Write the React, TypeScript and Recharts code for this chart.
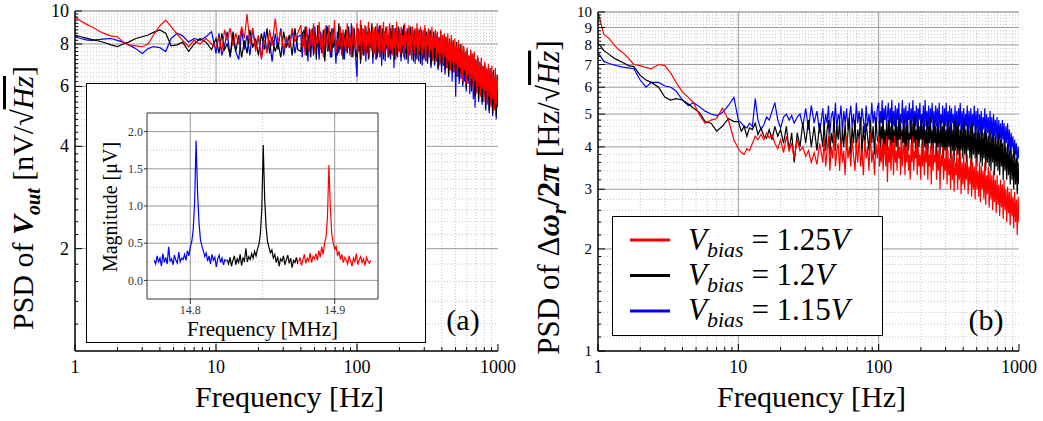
import { LineChart, Line, XAxis, YAxis, CartesianGrid, ReferenceLine, Legend } from 'recharts';

const SERIF = '"Liberation Serif", "DejaVu Serif", "Times New Roman", Times, serif';

// PSD frequency grid [Hz], shared by all six traces (1-10, 10-38, 40-98, 100-1000)
const FREQ_HZ = [
  1, 1.1, 1.2, 1.3, 1.4, 1.5, 1.65, 1.8, 2, 2.2,
  2.4, 2.7, 3, 3.3, 3.6, 4, 4.4, 4.8, 5.3, 5.8,
  6.4, 7, 7.7, 8.5, 9.3,
  10, 10.5, 11, 11.5, 12, 12.6, 13.2, 13.8, 14.5, 15.2,
  15.9, 16.6, 17.4, 18.2, 19.1, 20, 21, 22, 23, 24,
  25, 26.3, 27.5, 28.8, 30.2, 31.6, 33.1, 34.7, 36.3, 38,
  40, 40.9, 41.9, 42.9, 43.9, 44.9, 45.9, 47, 48.1, 49.2,
  50.3, 51.5, 52.7, 53.9, 55.2, 56.4, 57.7, 59.1, 60.4, 61.8,
  63.3, 64.7, 66.2, 67.8, 69.3, 70.9, 72.6, 74.3, 76, 77.8,
  79.6, 81.4, 83.3, 85.3, 87.2, 89.3, 91.3, 93.5, 95.6, 97.8,
  100, 101.5, 102.9, 104.4, 105.9, 107.5, 109, 110.6, 112.2, 113.8,
  115.5, 117.2, 118.9, 120.6, 122.3, 124.1, 125.9, 127.7, 129.6, 131.5,
  133.4, 135.3, 137.2, 139.2, 141.3, 143.3, 145.4, 147.5, 149.6, 151.8,
  154, 156.2, 158.5, 160.8, 163.1, 165.5, 167.9, 170.3, 172.8, 175.3,
  177.8, 180.4, 183, 185.7, 188.4, 191.1, 193.9, 196.7, 199.5, 202.4,
  205.4, 208.3, 211.3, 214.4, 217.5, 220.7, 223.9, 227.1, 230.4, 233.8,
  237.1, 240.6, 244.1, 247.6, 251.2, 254.8, 258.5, 262.3, 266.1, 269.9,
  273.8, 277.8, 281.8, 285.9, 290.1, 294.3, 298.5, 302.9, 307.2, 311.7,
  316.2, 320.8, 325.5, 330.2, 335, 339.8, 344.8, 349.8, 354.8, 360,
  365.2, 370.5, 375.8, 381.3, 386.8, 392.4, 398.1, 403.9, 409.7, 415.7,
  421.7, 427.8, 434, 440.3, 446.7, 453.2, 459.7, 466.4, 473.2, 480,
  487, 494, 501.2, 508.5, 515.8, 523.3, 530.9, 538.6, 546.4, 554.3,
  562.3, 570.5, 578.8, 587.1, 595.7, 604.3, 613.1, 621.9, 631, 640.1,
  649.4, 658.8, 668.3, 678, 687.9, 697.8, 708, 718.2, 728.6, 739.2,
  749.9, 760.8, 771.8, 783, 794.3, 805.8, 817.5, 829.4, 841.4, 853.6,
  866, 878.5, 891.3, 904.2, 917.3, 930.6, 944.1, 957.7, 971.6, 985.7,
  1000,
];

// (a) PSD of Vout [nV/sqrt(Hz)]
const A_RED = [
  9.6, 9.35, 9.15, 9.0, 8.85, 8.7, 8.55, 8.45, 8.4, 8.1,
  7.95, 7.9, 7.85, 8.0, 8.5, 9.05, 9.4, 9.0, 8.55, 8.2,
  7.85, 8.2, 8.0, 8.3, 8.0,
  7.8, 8.4, 7.6, 8.8, 8.2, 8.9, 7.9, 8.6, 8.0, 9.0,
  8.3, 9.8, 8.0, 8.9, 7.6, 8.5, 7.2, 8.2, 7.5, 8.8,
  7.9, 9.5, 8.1, 8.7, 7.7, 8.4, 7.8, 8.9, 8.1, 8.6,
  9.1, 7.8, 8.6, 7.4, 9.0, 8.1, 7.6, 8.8, 7.9, 9.2,
  7.5, 8.4, 8.0, 9.3, 7.7, 8.6, 7.3, 8.9, 8.2, 7.8,
  9.1, 7.6, 8.7, 8.0, 9.4, 7.5, 8.3, 7.9, 9.0, 7.4,
  8.8, 8.1, 7.6, 9.2, 7.8, 8.5, 7.3, 9.0, 8.2, 7.7,
  9.2, 7.5, 8.8, 7.9, 9.4, 7.2, 8.3, 8.9, 7.6, 9.1,
  7.4, 8.6, 7.9, 9.3, 7.3, 8.7, 8.1, 7.6, 9.0, 7.5,
  8.9, 7.2, 8.4, 9.2, 7.7, 8.6, 7.4, 9.1, 8.0, 7.6,
  9.3, 7.5, 8.7, 7.9, 9.0, 7.3, 8.5, 9.2, 7.7, 8.3,
  7.4, 9.1, 7.8, 8.8, 7.2, 9.3, 8.0, 7.6, 8.9, 7.5,
  9.0, 7.9, 8.5, 7.3, 9.2, 7.7, 8.7, 8.1, 7.4, 9.1,
  7.6, 8.6, 7.2, 9.0, 8.2, 7.5, 8.9, 7.8, 9.2, 7.3,
  8.7, 7.6, 9.0, 8.0, 7.4, 8.8, 7.7, 9.1, 7.2, 8.5,
  7.9, 8.9, 7.3, 8.6, 7.6, 9.0, 7.1, 8.4, 7.8, 8.8,
  7.2, 8.7, 7.5, 8.3, 6.9, 8.8, 7.4, 8.5, 7.0, 8.6,
  7.3, 8.4, 6.8, 8.6, 7.1, 8.2, 6.7, 8.5, 7.0, 8.1,
  6.6, 8.3, 7.0, 7.9, 6.4, 8.2, 6.8, 7.8, 6.5, 8.0,
  6.2, 7.9, 6.7, 7.6, 6.1, 7.8, 6.5, 7.4, 6.0, 7.7,
  6.3, 7.5, 5.8, 7.6, 6.2, 7.2, 5.7, 7.4, 6.0, 7.1,
  5.6, 7.3, 5.9, 6.9, 5.4, 7.1, 5.8, 6.8, 5.3, 7.0,
  5.6, 6.7, 5.2, 6.9, 5.5, 6.5, 5.1, 6.8, 5.3, 6.4,
  5.8,
];
const A_BLACK = [
  8.5, 8.4, 8.32, 8.25, 8.2, 8.15, 8.05, 7.95, 7.86, 8.0,
  8.1, 8.3, 8.4, 8.5, 8.65, 8.8, 8.6, 7.9, 7.95, 8.1,
  7.6, 8.0, 8.3, 8.1, 7.7,
  8.3, 7.5, 8.6, 7.7, 8.0, 7.4, 8.7, 7.6, 8.5, 7.3,
  8.2, 7.5, 8.8, 7.8, 8.3, 7.4, 8.6, 7.7, 8.9, 7.5,
  8.4, 7.6, 8.1, 7.3, 8.7, 7.8, 8.5, 7.4, 8.9, 7.7,
  7.6, 8.7, 7.9, 9.0, 7.4, 8.5, 8.1, 7.3, 8.9, 7.7,
  8.6, 7.2, 9.1, 7.8, 8.3, 7.5, 8.8, 7.1, 8.4, 9.0,
  7.6, 8.7, 7.3, 8.9, 7.9, 8.2, 7.4, 9.2, 7.7, 8.6,
  7.2, 8.4, 8.8, 7.5, 9.0, 7.8, 8.6, 7.3, 8.9, 7.6,
  7.3, 8.9, 7.7, 8.6, 7.0, 9.1, 7.9, 7.4, 8.8, 7.6,
  9.0, 7.5, 8.7, 7.2, 8.9, 7.8, 8.4, 9.2, 7.3, 8.6,
  7.6, 9.0, 7.9, 7.3, 8.8, 7.5, 9.1, 7.7, 8.5, 8.9,
  7.2, 8.7, 7.6, 9.0, 7.8, 8.4, 7.3, 7.9, 8.9, 7.5,
  9.1, 7.6, 8.6, 7.2, 8.9, 7.4, 8.2, 9.0, 7.7, 8.6,
  7.3, 8.8, 7.5, 9.1, 7.9, 8.3, 7.2, 8.7, 7.6, 8.9,
  7.4, 9.0, 7.8, 8.5, 7.1, 8.8, 7.6, 8.3, 7.2, 8.9,
  7.5, 8.6, 7.0, 8.8, 7.7, 8.4, 7.2, 8.9, 7.6, 8.7,
  7.1, 8.5, 7.5, 8.8, 6.9, 8.4, 7.4, 8.7, 7.0, 8.5,
  7.3, 8.6, 6.8, 8.3, 7.1, 8.7, 6.9, 8.2, 7.2, 8.5,
  6.7, 8.4, 7.0, 8.1, 6.5, 8.3, 6.9, 8.0, 6.6, 8.2,
  6.9, 7.9, 6.4, 8.1, 6.7, 7.8, 6.3, 8.0, 6.6, 7.7,
  6.1, 7.8, 6.5, 7.5, 5.9, 7.7, 6.3, 7.4, 6.0, 7.6,
  5.8, 7.3, 6.1, 7.5, 5.6, 7.2, 6.0, 7.3, 5.5, 7.0,
  5.8, 7.1, 5.4, 6.9, 5.7, 7.0, 5.2, 6.8, 5.5, 6.7,
  5.1, 6.8, 5.4, 6.5, 5.0, 6.7, 5.3, 6.4, 4.9, 6.5,
  5.3,
];
const A_BLUE = [
  8.4, 8.3, 8.22, 8.2, 8.22, 8.25, 8.28, 8.3, 8.2, 8.1,
  7.95, 7.75, 7.5, 7.75, 7.86, 7.8, 7.6, 8.3, 8.6, 8.45,
  8.1, 8.3, 8.2, 8.4, 8.7,
  7.5, 8.6, 7.4, 7.9, 8.7, 7.3, 8.4, 7.6, 7.2, 8.8,
  7.7, 8.5, 7.4, 8.9, 7.8, 8.4, 7.3, 8.7, 7.6, 8.2,
  7.1, 8.6, 7.7, 8.9, 7.4, 8.3, 7.8, 8.8, 7.5, 8.4,
  8.5, 7.3, 8.8, 7.6, 8.2, 7.1, 8.9, 7.8, 8.4, 7.4,
  9.0, 7.7, 8.3, 7.2, 8.7, 7.9, 8.1, 7.4, 9.1, 7.6,
  8.6, 7.3, 8.9, 7.8, 8.2, 7.0, 8.7, 7.5, 9.0, 7.9,
  8.4, 7.2, 8.8, 7.6, 8.3, 7.4, 9.2, 7.7, 8.5, 7.3,
  6.4, 8.9, 7.6, 8.5, 7.2, 9.0, 7.8, 8.3, 7.4, 8.8,
  7.1, 8.6, 7.7, 9.1, 7.3, 8.4, 7.9, 8.8, 7.0, 8.7,
  7.5, 8.9, 7.2, 8.5, 7.8, 9.0, 7.3, 8.6, 6.9, 8.8,
  7.6, 8.4, 7.1, 8.9, 7.7, 8.5, 7.4, 9.0, 7.2, 8.6,
  7.8, 8.7, 6.8, 8.9, 7.5, 8.3, 7.3, 8.8, 7.6, 8.5,
  7.1, 8.9, 7.7, 8.4, 7.2, 8.7, 7.5, 8.9, 7.0, 8.6,
  7.6, 8.3, 7.2, 8.8, 7.4, 8.6, 7.0, 8.7, 7.5, 8.4,
  7.1, 8.8, 7.6, 8.2, 6.9, 8.7, 7.3, 8.5, 7.1, 8.6,
  7.0, 8.4, 7.3, 8.7, 6.8, 8.3, 7.2, 8.6, 6.9, 8.2,
  7.1, 8.5, 6.7, 8.4, 7.0, 8.1, 6.6, 8.3, 6.9, 8.0,
  6.5, 8.2, 6.8, 7.9, 6.4, 8.1, 6.7, 7.8, 6.2, 8.0,
  6.6, 7.7, 5.6, 7.9, 6.4, 7.6, 6.1, 7.8, 6.3, 7.5,
  6.0, 7.7, 6.2, 7.3, 5.8, 7.5, 6.1, 7.2, 5.7, 7.4,
  6.0, 7.1, 5.5, 7.3, 5.2, 7.0, 5.8, 7.2, 5.4, 6.9,
  5.7, 7.0, 5.3, 6.8, 5.6, 6.9, 5.1, 6.6, 5.4, 6.7,
  5.0, 6.5, 5.3, 6.6, 4.9, 6.4, 5.2, 6.3, 4.8, 6.2,
  5.2,
];

// (b) PSD of delta omega_r / 2pi [Hz/sqrt(Hz)]
const B_RED = [
  10.0, 8.6, 8.35, 8.0, 7.75, 7.6, 7.3, 7.0, 6.95, 6.85,
  6.8, 7.0, 6.95, 6.6, 6.2, 5.8, 5.6, 5.4, 4.95, 4.7,
  4.8, 4.85, 5.2, 4.8, 4.2,
  3.95, 3.85, 3.8, 3.95, 3.9, 4.1, 4.3, 4.2, 4.35, 4.2,
  4.4, 4.25, 4.35, 4.1, 3.95, 4.2, 3.85, 4.3, 3.9, 4.1,
  3.7, 4.2, 3.9, 4.0, 3.75, 3.9, 3.6, 3.85, 3.55, 4.1,
  3.6, 4.2, 3.5, 3.9, 4.3, 3.4, 4.0, 3.7, 4.4, 3.5,
  3.9, 4.1, 3.4, 4.2, 3.6, 3.9, 3.3, 4.3, 3.7, 4.0,
  3.5, 4.2, 3.8, 3.4, 4.1, 3.6, 4.3, 3.5, 3.9, 3.3,
  4.2, 3.7, 4.0, 3.4, 4.4, 3.6, 3.9, 3.3, 4.1, 3.7,
  4.3, 3.5, 4.0, 3.6, 4.2, 3.4, 3.9, 4.1, 3.5, 4.3,
  3.15, 4.0, 3.6, 4.2, 3.4, 3.8, 4.1, 3.3, 4.3, 3.6,
  3.9, 3.4, 4.2, 3.7, 4.0, 3.3, 4.3, 3.5, 3.9, 4.1,
  3.3, 4.0, 3.6, 4.2, 3.4, 3.8, 3.2, 4.1, 3.6, 4.3,
  3.4, 3.9, 3.7, 4.2, 3.3, 4.0, 3.5, 3.8, 3.2, 4.1,
  3.5, 4.2, 3.3, 3.9, 3.6, 4.1, 3.2, 3.8, 3.5, 4.0,
  3.1, 4.1, 3.4, 3.8, 3.6, 4.0, 3.2, 3.9, 3.4, 4.1,
  3.0, 3.8, 3.5, 4.0, 3.2, 3.7, 3.4, 4.0, 3.1, 3.9,
  3.3, 3.7, 3.0, 4.0, 3.2, 3.8, 2.95, 3.6, 3.3, 3.9,
  3.0, 3.7, 3.2, 3.9, 2.9, 3.6, 3.1, 3.8, 3.0, 3.6,
  3.2, 3.8, 2.9, 3.5, 3.1, 3.7, 2.85, 3.6, 3.0, 3.5,
  2.8, 3.7, 3.0, 3.4, 2.85, 3.6, 2.75, 3.5, 3.0, 3.4,
  2.8, 3.6, 2.7, 3.3, 2.9, 3.5, 2.65, 3.4, 2.8, 3.3,
  2.6, 3.4, 2.75, 3.2, 2.55, 3.3, 2.7, 3.1, 2.5, 3.2,
  2.65, 3.1, 2.45, 3.2, 2.6, 3.0, 2.4, 3.05, 2.55, 2.95,
  2.35, 3.0, 2.5, 2.85, 2.3, 2.95, 2.4, 2.8, 2.2, 2.85,
  2.4,
];
const B_BLACK = [
  8.1, 7.7, 7.5, 7.3, 7.2, 7.1, 6.95, 6.9, 6.5, 6.3,
  6.2, 6.0, 5.6, 5.5, 5.55, 5.5, 5.35, 5.2, 5.05, 4.75,
  4.7, 4.45, 4.6, 4.85, 4.75,
  4.75, 4.45, 4.6, 4.3, 4.55, 4.5, 4.7, 4.35, 4.55, 4.3,
  4.25, 4.5, 4.2, 4.6, 4.3, 4.5, 4.1, 4.6, 3.9, 4.4,
  3.6, 4.4, 4.0, 4.7, 4.1, 4.8, 4.0, 4.6, 3.9, 4.7,
  4.0, 4.7, 3.9, 4.5, 4.8, 3.8, 4.4, 4.1, 4.9, 3.9,
  4.6, 4.2, 4.8, 3.8, 4.5, 4.0, 4.7, 3.9, 4.4, 4.9,
  3.8, 4.6, 4.1, 4.8, 3.9, 4.5, 4.2, 4.9, 3.8, 4.6,
  4.0, 4.7, 4.3, 3.9, 4.8, 4.1, 4.6, 3.8, 4.9, 4.2,
  4.1, 4.8, 3.9, 4.6, 4.2, 4.9, 3.8, 4.5, 4.0, 4.7,
  3.9, 4.8, 4.2, 4.6, 3.7, 4.9, 4.1, 4.5, 3.9, 4.8,
  4.0, 4.6, 3.8, 4.9, 4.2, 4.7, 3.9, 4.5, 4.1, 4.8,
  3.7, 4.6, 4.0, 4.9, 3.9, 4.4, 4.2, 4.8, 3.8, 4.7,
  4.1, 4.9, 3.9, 4.5, 3.7, 4.8, 4.0, 4.6, 4.2, 4.9,
  3.8, 4.7, 4.0, 4.5, 3.9, 4.8, 3.7, 4.6, 4.1, 4.9,
  3.9, 4.5, 3.8, 4.8, 4.1, 4.6, 3.7, 4.7, 4.0, 4.5,
  3.8, 4.8, 4.0, 4.6, 3.7, 4.7, 3.9, 4.5, 3.8, 4.8,
  4.0, 4.6, 3.7, 4.7, 3.9, 4.5, 3.6, 4.8, 3.9, 4.6,
  3.8, 4.7, 3.6, 4.5, 3.9, 4.6, 3.7, 4.8, 3.8, 4.5,
  3.6, 4.7, 3.9, 4.5, 3.7, 4.6, 3.5, 4.7, 3.8, 4.4,
  3.7, 4.6, 3.5, 4.5, 3.8, 4.4, 3.6, 4.6, 3.5, 4.4,
  3.7, 4.5, 3.4, 4.4, 3.6, 4.3, 3.5, 4.5, 3.4, 4.3,
  3.6, 4.4, 3.3, 4.3, 3.5, 4.2, 3.4, 4.4, 3.3, 4.2,
  3.5, 4.1, 3.2, 4.2, 3.4, 4.0, 3.2, 4.1, 3.3, 3.9,
  3.1, 4.0, 3.2, 3.8, 3.0, 3.9, 3.1, 3.7, 2.9, 3.6,
  3.1,
];
const B_BLUE = [
  7.6, 7.15, 7.05, 6.98, 6.92, 6.88, 6.84, 6.8, 6.3, 6.0,
  6.2, 6.2, 6.05, 6.0, 5.85, 5.5, 5.3, 5.4, 5.25, 5.1,
  5.0, 4.95, 5.05, 5.3, 5.6,
  4.8, 4.7, 4.6, 4.55, 4.7, 4.6, 5.55, 4.8, 4.5, 4.65,
  4.9, 4.8, 5.1, 5.4, 4.8, 4.55, 4.9, 5.0, 4.8, 4.95,
  4.7, 4.9, 5.0, 4.6, 5.2, 4.5, 5.3, 4.7, 5.1, 4.4,
  5.2, 4.5, 5.0, 4.7, 5.3, 4.4, 4.9, 5.1, 4.6, 5.4,
  4.5, 5.0, 4.8, 5.3, 4.4, 5.1, 4.7, 5.2, 4.5, 4.9,
  5.3, 4.6, 5.0, 4.4, 5.4, 4.7, 5.1, 4.5, 5.2, 4.8,
  4.4, 5.3, 4.6, 5.0, 4.5, 5.4, 4.7, 5.1, 4.4, 5.2,
  5.4, 4.5, 5.1, 4.7, 5.5, 4.4, 5.2, 4.8, 5.3, 4.6,
  5.0, 5.4, 4.4, 5.2, 4.7, 5.5, 4.5, 5.1, 4.6, 5.3,
  4.4, 5.2, 4.8, 5.4, 4.5, 5.0, 4.7, 5.5, 4.4, 5.2,
  4.6, 5.3, 4.5, 5.1, 4.8, 5.4, 4.3, 5.2, 4.7, 5.5,
  4.5, 5.1, 4.6, 5.3, 4.4, 5.2, 4.8, 5.4, 4.5, 5.0,
  4.7, 5.3, 4.4, 5.5, 4.6, 5.1, 4.5, 5.3, 4.3, 5.2,
  4.7, 5.4, 4.5, 5.1, 4.4, 5.3, 4.6, 5.2, 4.4, 5.4,
  4.5, 5.0, 4.7, 5.3, 4.3, 5.2, 4.6, 5.4, 4.4, 5.1,
  4.6, 5.3, 4.4, 5.2, 4.7, 5.0, 4.3, 5.3, 4.5, 5.1,
  4.4, 5.2, 4.6, 5.4, 4.3, 5.1, 4.5, 5.2, 4.4, 5.0,
  4.6, 5.3, 4.3, 5.1, 4.5, 5.2, 4.4, 5.0, 4.6, 5.3,
  4.3, 5.1, 4.5, 5.2, 4.2, 5.0, 4.4, 5.1, 4.3, 4.9,
  4.5, 5.2, 4.2, 5.0, 4.4, 4.9, 4.2, 5.1, 4.3, 4.9,
  4.1, 5.0, 4.3, 4.8, 4.2, 4.9, 4.0, 4.8, 4.2, 4.7,
  4.0, 4.8, 4.2, 4.7, 3.9, 4.6, 4.1, 4.7, 3.9, 4.5,
  3.8, 4.4, 4.0, 4.3, 3.7, 4.2, 3.8, 4.1, 3.5, 4.0,
  3.7,
];

// inset: resonance sweeps, magnitude [uV], sampled every 1 kHz
const SWEEP_STEP_MHZ = 0.001;
const IN_BLUE_START = 14.775;
const IN_BLUE = [
  0.27, 0.22, 0.33, 0.25, 0.30, 0.19, 0.36, 0.24, 0.31, 0.22,
  0.45, 0.26, 0.29, 0.21, 0.34, 0.27, 0.23, 0.38, 0.25, 0.30,
  0.28, 0.35, 0.27, 0.40, 0.33, 0.45, 0.52, 0.68, 1.05, 1.88,
  1.20, 0.78, 0.55, 0.46, 0.40, 0.32, 0.37, 0.26, 0.33, 0.22,
  0.35, 0.27, 0.31, 0.18, 0.29, 0.34, 0.24, 0.30, 0.21, 0.28, 0.26,
];
const IN_BLACK_START = 14.8255;
const IN_BLACK = [
  0.28, 0.22, 0.31, 0.19, 0.27, 0.33, 0.21, 0.29, 0.24, 0.35,
  0.20, 0.30, 0.26, 0.43, 0.25, 0.32, 0.28, 0.36, 0.30, 0.39,
  0.33, 0.42, 0.48, 0.62, 0.95, 1.82, 1.10, 0.72, 0.52, 0.44,
  0.37, 0.41, 0.30, 0.35, 0.24, 0.32, 0.19, 0.29, 0.26, 0.33,
  0.21, 0.28, 0.34, 0.23, 0.30, 0.17, 0.27, 0.24, 0.31, 0.22,
];
const IN_RED_START = 14.875;
const IN_RED = [
  0.25, 0.31, 0.20, 0.28, 0.35, 0.23, 0.30, 0.26, 0.37, 0.24,
  0.32, 0.29, 0.36, 0.27, 0.40, 0.31, 0.45, 0.35, 0.50, 0.58,
  0.85, 1.55, 0.98, 0.62, 0.50, 0.42, 0.46, 0.33, 0.39, 0.28,
  0.35, 0.24, 0.31, 0.27, 0.22, 0.33, 0.26, 0.19, 0.30, 0.25,
  0.36, 0.21, 0.28, 0.32, 0.24, 0.29, 0.20, 0.31, 0.26, 0.23, 0.27,
];

const X_TICKS = [1, 2, 3, 4, 5, 6, 7, 8, 9, 10, 20, 30, 40, 50, 60, 70, 80, 90, 100, 200, 300, 400, 500, 600, 700, 800, 900, 1000];
const X_LABELED = [1, 10, 100, 1000];
const A_Y_LABELED = [2, 4, 6, 8, 10];
const B_Y_LABELED = [1, 2, 3, 4, 5, 6, 7, 8, 9, 10];
const INSET_X_TICKS = [14.8, 14.9];
const INSET_Y_TICKS = [0, 0.5, 1, 1.5, 2];

const LEGEND_ITEMS = [
  { color: '#ff0000', volts: '1.25' },
  { color: '#000000', volts: '1.2' },
  { color: '#0000ff', volts: '1.15' },
];

// grid helpers (axis decoration only)
const X_MINOR = X_TICKS.filter((v) => !X_LABELED.includes(v));
const steps = (from: number, to: number, step: number) => {
  const out: number[] = [];
  for (let v = from; v <= to + 1e-9; v += step) out.push(Math.round(v * 10) / 10);
  return out;
};
const A_Y_MINOR = steps(1.2, 9.8, 0.2).filter((v) => !A_Y_LABELED.includes(v));
const B_Y_MINOR = [...steps(1.1, 1.9, 0.1), ...steps(2.2, 9.8, 0.2)].filter((v) => !B_Y_LABELED.includes(v));
const A_Y_TICKS = [...A_Y_MINOR, ...A_Y_LABELED].sort((p, q) => p - q);
const B_Y_TICKS = [...B_Y_MINOR, ...B_Y_LABELED].sort((p, q) => p - q);

const psdA = FREQ_HZ.map((f, i) => ({ f, red: A_RED[i], black: A_BLACK[i], blue: A_BLUE[i] }));
const psdB = FREQ_HZ.map((f, i) => ({ f, red: B_RED[i], black: B_BLACK[i], blue: B_BLUE[i] }));
const sweep = (start: number, vals: number[]) => vals.map((v, i) => ({ f: start + i * SWEEP_STEP_MHZ, v }));
const insetBlue = sweep(IN_BLUE_START, IN_BLUE);
const insetBlack = sweep(IN_BLACK_START, IN_BLACK);
const insetRed = sweep(IN_RED_START, IN_RED);

interface TickProps {
  x?: number;
  y?: number;
  payload?: { value: number };
  labeled?: number[];
  size?: number;
}
interface VB {
  viewBox?: { x: number; y: number; width: number; height: number };
}

function BottomTick({ x = 0, y = 0, payload, labeled = [] }: TickProps) {
  const v = payload?.value ?? 0;
  const major = labeled.includes(v);
  return (
    <g>
      <line x1={x} x2={x} y1={y} y2={y - (major ? 7 : 4)} stroke="#000" />
      {major && (
        <text x={x} y={y + 22} textAnchor="middle" style={{ fontFamily: SERIF }} fontSize={18} fill="#000">
          {v}
        </text>
      )}
    </g>
  );
}

function LeftTick({ x = 0, y = 0, payload, labeled = [], size = 18 }: TickProps) {
  const v = payload?.value ?? 0;
  const major = labeled.includes(v);
  return (
    <g>
      <line x1={x} x2={x + (major ? 7 : 3)} y1={y} y2={y} stroke="#000" />
      {major && (
        <text x={x - 6} y={y + size / 3} textAnchor="end" style={{ fontFamily: SERIF }} fontSize={size} fill="#000">
          {v}
        </text>
      )}
    </g>
  );
}

function RightTick({ x = 0, y = 0, payload, labeled = [] }: TickProps) {
  const v = payload?.value ?? 0;
  if (!labeled.includes(v)) return <g />;
  return <line x1={x} x2={x - 6} y1={y} y2={y} stroke="#000" strokeWidth={1.5} />;
}

function FreqTitle({ viewBox }: VB) {
  const vb = viewBox ?? { x: 0, y: 0, width: 0, height: 0 };
  return (
    <text x={vb.x + vb.width / 2 + 3} y={vb.y + 56} textAnchor="middle" style={{ fontFamily: SERIF }} fontSize={30} fill="#000">
      Frequency [Hz]
    </text>
  );
}

function TitleA({ viewBox }: VB) {
  const vb = viewBox ?? { x: 0, y: 0, width: 0, height: 0 };
  const cx = vb.x - 2;
  const cy = vb.y + vb.height / 2 + 17;
  return (
    <text x={cx} y={cy} transform={`rotate(-90 ${cx} ${cy})`} textAnchor="middle" style={{ fontFamily: SERIF }} fontSize={30} fill="#000">
      PSD of{' '}
      <tspan fontWeight="bold" fontStyle="italic">V</tspan>
      <tspan fontWeight="bold" fontStyle="italic" fontSize={20} dy={7}>out</tspan>
      <tspan dy={-7}>{' [nV/√'}</tspan>
      <tspan fontStyle="italic" style={{ textDecoration: 'overline' }}>Hz</tspan>
      <tspan>]</tspan>
    </text>
  );
}

function TitleB({ viewBox }: VB) {
  const vb = viewBox ?? { x: 0, y: 0, width: 0, height: 0 };
  const cx = vb.x + 1;
  const cy = vb.y + vb.height / 2 + 16;
  return (
    <text x={cx} y={cy} transform={`rotate(-90 ${cx} ${cy})`} textAnchor="middle" style={{ fontFamily: SERIF }} fontSize={31} fill="#000">
      PSD of Δ
      <tspan fontWeight="bold" fontStyle="italic">ω</tspan>
      <tspan fontWeight="bold" fontStyle="italic" fontSize={21} dy={7}>r</tspan>
      <tspan fontWeight="bold" dy={-7}>/2</tspan>
      <tspan fontWeight="bold" fontStyle="italic">π</tspan>
      <tspan>{' [Hz/√'}</tspan>
      <tspan fontStyle="italic" style={{ textDecoration: 'overline' }}>Hz</tspan>
      <tspan>]</tspan>
    </text>
  );
}

function InsetFreqTitle({ viewBox }: VB) {
  const vb = viewBox ?? { x: 0, y: 0, width: 0, height: 0 };
  return (
    <text x={vb.x + vb.width / 2} y={vb.y + 37} textAnchor="middle" style={{ fontFamily: SERIF }} fontSize={21} fill="#000">
      Frequency [MHz]
    </text>
  );
}

function InsetMagTitle({ viewBox }: VB) {
  const vb = viewBox ?? { x: 0, y: 0, width: 0, height: 0 };
  const cx = vb.x;
  const cy = vb.y + vb.height / 2 + 1;
  return (
    <text x={cx} y={cy} transform={`rotate(-90 ${cx} ${cy})`} textAnchor="middle" style={{ fontFamily: SERIF }} fontSize={20} fill="#000">
      Magnitude [μV]
    </text>
  );
}

function BiasLegend() {
  return (
    <div style={{ width: 271, height: 120, border: '1px solid #000', background: '#fff', boxSizing: 'border-box' }}>
      <svg width={269} height={118} style={{ display: 'block' }}>
        {LEGEND_ITEMS.map((it, i) => (
          <g key={it.volts}>
            <line x1={17} x2={57} y1={23 + i * 35.5} y2={23 + i * 35.5} stroke={it.color} strokeWidth={3} />
            <text x={75} y={33 + i * 35} style={{ fontFamily: SERIF }} fontSize={31} fill="#000">
              <tspan fontStyle="italic">V</tspan>
              <tspan fontStyle="italic" fontSize={22} dy={7}>bias</tspan>
              <tspan dy={-7}>{' = ' + it.volts}</tspan>
              <tspan fontStyle="italic">V</tspan>
            </text>
          </g>
        ))}
      </svg>
    </div>
  );
}

const lineProps = { type: 'linear' as const, dot: false, isAnimationActive: false, strokeWidth: 1.2 };

function PanelA() {
  return (
    <LineChart width={520} height={421} data={psdA} margin={{ top: 11, right: 22, bottom: 40, left: 35 }}>
      <CartesianGrid verticalValues={X_MINOR} horizontalValues={A_Y_MINOR} stroke="#c4c4c4" strokeDasharray="1 2" />
      <CartesianGrid verticalValues={[10, 100]} horizontalValues={[2, 4, 6, 8]} stroke="#9a9a9a" />
      <XAxis
        dataKey="f"
        type="number"
        scale="log"
        domain={[1, 1000]}
        allowDataOverflow
        ticks={X_TICKS}
        interval={0}
        tickSize={0}
        tickMargin={0}
        height={30}
        axisLine={{ stroke: '#000', strokeWidth: 1.5 }}
        tick={<BottomTick labeled={X_LABELED} />}
        label={<FreqTitle />}
      />
      <YAxis
        type="number"
        scale="log"
        domain={[1, 10]}
        allowDataOverflow
        ticks={A_Y_TICKS}
        interval={0}
        tickSize={0}
        tickMargin={0}
        width={40}
        axisLine={{ stroke: '#000', strokeWidth: 1.5 }}
        tick={<LeftTick labeled={A_Y_LABELED} size={18} />}
        label={<TitleA />}
      />
      <YAxis
        yAxisId="r"
        orientation="right"
        type="number"
        scale="log"
        domain={[1, 10]}
        allowDataOverflow
        ticks={A_Y_LABELED}
        interval={0}
        tickSize={0}
        tickMargin={0}
        width={0}
        axisLine={{ stroke: '#000', strokeWidth: 1 }}
        tick={<RightTick labeled={A_Y_LABELED} />}
      />
      <ReferenceLine y={10} stroke="#777" />
      <Line dataKey="blue" stroke="#0000ff" {...lineProps} />
      <Line dataKey="black" stroke="#000000" {...lineProps} />
      <Line dataKey="red" stroke="#ff0000" {...lineProps} />
    </LineChart>
  );
}

function PanelB() {
  return (
    <LineChart width={523} height={421} data={psdB} margin={{ top: 12, right: 24, bottom: 40, left: 38 }}>
      <CartesianGrid verticalValues={X_MINOR} horizontalValues={B_Y_MINOR} stroke="#c4c4c4" strokeDasharray="1 2" />
      <CartesianGrid verticalValues={[10, 100]} horizontalValues={[2, 3, 4, 5, 6, 7, 8, 9]} stroke="#9a9a9a" />
      <XAxis
        dataKey="f"
        type="number"
        scale="log"
        domain={[1, 1000]}
        allowDataOverflow
        ticks={X_TICKS}
        interval={0}
        tickSize={0}
        tickMargin={0}
        height={30}
        axisLine={{ stroke: '#000', strokeWidth: 1.5 }}
        tick={<BottomTick labeled={X_LABELED} />}
        label={<FreqTitle />}
      />
      <YAxis
        type="number"
        scale="log"
        domain={[1, 10]}
        allowDataOverflow
        ticks={B_Y_TICKS}
        interval={0}
        tickSize={0}
        tickMargin={0}
        width={40}
        axisLine={{ stroke: '#000', strokeWidth: 1.5 }}
        tick={<LeftTick labeled={B_Y_LABELED} size={15} />}
        label={<TitleB />}
      />
      <YAxis
        yAxisId="r"
        orientation="right"
        type="number"
        scale="log"
        domain={[1, 10]}
        allowDataOverflow
        ticks={B_Y_LABELED}
        interval={0}
        tickSize={0}
        tickMargin={0}
        width={0}
        axisLine={{ stroke: '#000', strokeWidth: 1 }}
        tick={<RightTick labeled={B_Y_LABELED} />}
      />
      <ReferenceLine y={10} stroke="#777" />
      <Line dataKey="blue" stroke="#0000ff" {...lineProps} />
      <Line dataKey="black" stroke="#000000" {...lineProps} />
      <Line dataKey="red" stroke="#ff0000" {...lineProps} />
      <Legend
        layout="vertical"
        align="center"
        verticalAlign="middle"
        content={<BiasLegend />}
        wrapperStyle={{ left: 92, top: 216, width: 271 }}
      />
    </LineChart>
  );
}

function ResonanceInset() {
  const tickStyle = { fill: '#333', fontSize: 12, fontFamily: SERIF };
  return (
    <LineChart width={338} height={258} margin={{ top: 29, right: 47, bottom: 23, left: 30 }}>
      <CartesianGrid verticalValues={[14.85]} horizontalValues={[0.25, 0.75, 1.25, 1.75]} stroke="#c4c4c4" strokeDasharray="1 2" />
      <CartesianGrid verticalValues={INSET_X_TICKS} horizontalValues={INSET_Y_TICKS} stroke="#9a9a9a" />
      <XAxis
        dataKey="f"
        type="number"
        domain={[14.77, 14.93]}
        allowDataOverflow
        ticks={INSET_X_TICKS}
        interval={0}
        tickSize={5}
        tickMargin={1}
        height={20}
        axisLine={{ stroke: '#333' }}
        tickLine={{ stroke: '#333' }}
        tick={tickStyle}
        label={<InsetFreqTitle />}
      />
      <YAxis
        type="number"
        domain={[-0.25, 2.25]}
        allowDataOverflow
        ticks={INSET_Y_TICKS}
        interval={0}
        tickSize={3}
        tickMargin={1}
        width={30}
        axisLine={{ stroke: '#333' }}
        tickLine={{ stroke: '#333' }}
        tick={tickStyle}
        tickFormatter={(v: number) => v.toFixed(1)}
        label={<InsetMagTitle />}
      />
      <ReferenceLine y={2.25} stroke="#333" />
      <ReferenceLine x={14.93} stroke="#333" />
      <Line data={insetBlue} dataKey="v" stroke="#0000ff" type="linear" dot={false} isAnimationActive={false} strokeWidth={1.2} />
      <Line data={insetBlack} dataKey="v" stroke="#000000" type="linear" dot={false} isAnimationActive={false} strokeWidth={1.2} />
      <Line data={insetRed} dataKey="v" stroke="#ff0000" type="linear" dot={false} isAnimationActive={false} strokeWidth={1.2} />
    </LineChart>
  );
}

export default function App() {
  return (
    <div style={{ position: 'absolute', left: 0, top: 0, width: 1043, height: 421, background: '#fff', overflow: 'hidden', fontFamily: SERIF }}>
      <div style={{ position: 'absolute', left: 0, top: 0 }}>
        <PanelA />
      </div>
      <div
        style={{
          position: 'absolute',
          left: 86,
          top: 83,
          width: 340,
          height: 260,
          border: '1px solid #000',
          boxSizing: 'border-box',
          background: '#fff',
        }}
      >
        <ResonanceInset />
      </div>
      <div style={{ position: 'absolute', left: 520, top: 0 }}>
        <PanelB />
      </div>
      <svg width={1043} height={421} style={{ position: 'absolute', left: 0, top: 0, pointerEvents: 'none' }}>
        <text x={463} y={330} textAnchor="middle" style={{ fontFamily: SERIF }} fontSize={30} fill="#000">(a)</text>
        <text x={986} y={330} textAnchor="middle" style={{ fontFamily: SERIF }} fontSize={30} fill="#000">(b)</text>
      </svg>
    </div>
  );
}
